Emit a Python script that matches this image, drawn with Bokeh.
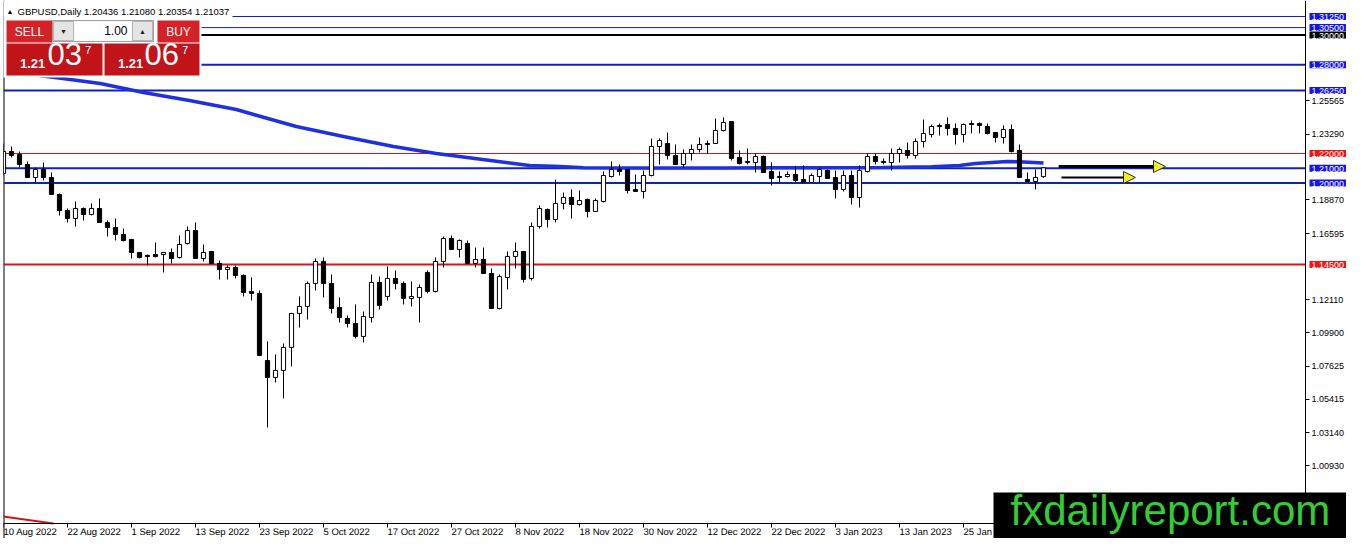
from bokeh.plotting import figure
from bokeh.models import (ColumnDataSource, FixedTicker, PrintfTickFormatter, Label,
                          BoxAnnotation, Arrow, NormalHead, Range1d)
from bokeh.embed import file_html
from bokeh.resources import INLINE

# ---------------- data ----------------
opens = [1.20650, 1.22135, 1.21932, 1.21257, 1.20380, 1.20920, 1.20380, 1.19232, 1.18152, 1.17612,
         1.18287, 1.17882, 1.18287, 1.17342, 1.17005, 1.16532, 1.16195, 1.15317, 1.15115, 1.15182,
         1.15182, 1.15317, 1.14980, 1.15925, 1.16802, 1.14912, 1.15385, 1.14575, 1.14170, 1.14305,
         1.13765, 1.12685, 1.12550, 1.08026, 1.06878, 1.07349, 1.08904, 1.11199, 1.11672, 1.13225,
         1.14710, 1.13225, 1.11604, 1.10862, 1.10524, 1.09646, 1.10929, 1.13292, 1.12347, 1.13562,
         1.13225, 1.12212, 1.12280, 1.13967, 1.12685, 1.14710, 1.16262, 1.15520, 1.15925, 1.14575,
         1.14845, 1.13900, 1.11537, 1.13630, 1.15047, 1.15385, 1.13562, 1.17072, 1.18220, 1.17545,
         1.18625, 1.19030, 1.18557, 1.18895, 1.18085, 1.18760, 1.20447, 1.20920, 1.20920, 1.19570,
         1.19435, 1.20515, 1.22472, 1.22675, 1.21865, 1.21257, 1.22000, 1.22269, 1.22675, 1.22675,
         1.23552, 1.24160, 1.21730, 1.21460, 1.21392, 1.21797, 1.20785, 1.20447, 1.20447, 1.20582,
         1.20245, 1.20042, 1.20447, 1.20852, 1.20380, 1.19570, 1.20515, 1.19030, 1.20785, 1.21797,
         1.21460, 1.21392, 1.22000, 1.22202, 1.21865, 1.22810, 1.23282, 1.23890, 1.23958, 1.23688,
         1.23282, 1.24025, 1.24025, 1.23823, 1.23417, 1.23080, 1.23620, 1.22202, 1.20245, 1.20110,
         1.20436]
highs = [1.22675, 1.22472, 1.22135, 1.21460, 1.21055, 1.21392, 1.20717, 1.19300, 1.18287, 1.18760,
         1.18355, 1.18625, 1.18962, 1.17477, 1.17612, 1.16937, 1.16210, 1.15330, 1.15182, 1.15992,
         1.15330, 1.15587, 1.16465, 1.17072, 1.17342, 1.15857, 1.15400, 1.14777, 1.14440, 1.14440,
         1.13832, 1.13630, 1.12752, 1.09309, 1.08431, 1.09174, 1.11210, 1.12347, 1.13360, 1.14912,
         1.14980, 1.13832, 1.12280, 1.11064, 1.11807, 1.11334, 1.13832, 1.13697, 1.14372, 1.14102,
         1.13360, 1.13360, 1.13157, 1.14102, 1.14980, 1.16397, 1.16465, 1.16195, 1.16127, 1.15655,
         1.15655, 1.14237, 1.13832, 1.15385, 1.15992, 1.15400, 1.17342, 1.18490, 1.18287, 1.20245,
         1.19367, 1.19570, 1.19502, 1.18962, 1.18962, 1.20785, 1.21460, 1.21257, 1.20935, 1.20582,
         1.20852, 1.23012, 1.23012, 1.23417, 1.22607, 1.22269, 1.22607, 1.23080, 1.22877, 1.24362,
         1.24430, 1.24175, 1.22202, 1.22337, 1.22000, 1.21865, 1.21392, 1.20785, 1.20785, 1.21122,
         1.21190, 1.20650, 1.21055, 1.20920, 1.20852, 1.20852, 1.20852, 1.21190, 1.22000, 1.22000,
         1.21662, 1.22337, 1.22404, 1.22742, 1.23012, 1.24295, 1.23958, 1.24025, 1.24430, 1.24025,
         1.24025, 1.24228, 1.24093, 1.24025, 1.23430, 1.23890, 1.23958, 1.22607, 1.20717, 1.20920,
         1.21080]
lows = [1.20515, 1.21730, 1.21055, 1.20340, 1.20042, 1.20177, 1.19200, 1.17815, 1.17342, 1.17072,
        1.17477, 1.17815, 1.17320, 1.16397, 1.16127, 1.16060, 1.14912, 1.14912, 1.14440, 1.14980,
        1.13967, 1.14575, 1.14912, 1.15857, 1.14900, 1.14710, 1.14560, 1.13495, 1.13495, 1.13562,
        1.12347, 1.12077, 1.08350, 1.03502, 1.06540, 1.05460, 1.07621, 1.10254, 1.10794, 1.12752,
        1.12280, 1.11199, 1.10592, 1.10254, 1.09511, 1.09241, 1.10592, 1.11469, 1.12077, 1.12820,
        1.11807, 1.11672, 1.10592, 1.12550, 1.12617, 1.14305, 1.15500, 1.14980, 1.14560, 1.14305,
        1.13890, 1.11520, 1.11469, 1.12820, 1.14237, 1.13292, 1.13427, 1.16937, 1.17005, 1.17342,
        1.18220, 1.17612, 1.18490, 1.17680, 1.18050, 1.18692, 1.20380, 1.20515, 1.19300, 1.19420,
        1.18962, 1.20447, 1.21257, 1.21595, 1.21240, 1.21055, 1.21527, 1.22067, 1.22000, 1.22660,
        1.23485, 1.21527, 1.21257, 1.21257, 1.20717, 1.20700, 1.19840, 1.20042, 1.20380, 1.20042,
        1.20030, 1.20030, 1.20042, 1.20300, 1.18962, 1.19435, 1.18557, 1.18355, 1.20717, 1.21257,
        1.21257, 1.20852, 1.21392, 1.21662, 1.21662, 1.22404, 1.23080, 1.23215, 1.23215, 1.22607,
        1.22742, 1.23350, 1.23350, 1.23282, 1.22742, 1.22675, 1.22067, 1.20370, 1.20100, 1.19570,
        1.20354]
closes = [1.22135, 1.21865, 1.21257, 1.20380, 1.20920, 1.20380, 1.19232, 1.18152, 1.17612, 1.18287,
          1.17882, 1.18287, 1.17342, 1.17005, 1.16532, 1.16127, 1.15317, 1.14980, 1.15047, 1.15047,
          1.15317, 1.14912, 1.15857, 1.16802, 1.14912, 1.15317, 1.14575, 1.14170, 1.14305, 1.13765,
          1.12617, 1.12550, 1.08364, 1.06878, 1.07349, 1.08904, 1.11199, 1.11672, 1.13225, 1.14710,
          1.13225, 1.11537, 1.10929, 1.10524, 1.09646, 1.10997, 1.13292, 1.11739, 1.13562, 1.13225,
          1.12212, 1.12347, 1.12955, 1.12685, 1.14710, 1.16262, 1.15520, 1.16127, 1.14575, 1.14845,
          1.13900, 1.11537, 1.13697, 1.15047, 1.15385, 1.13495, 1.17072, 1.18287, 1.17545, 1.18625,
          1.19030, 1.18557, 1.18827, 1.18085, 1.18827, 1.20515, 1.20920, 1.20785, 1.19502, 1.19435,
          1.20515, 1.22472, 1.22877, 1.21865, 1.21257, 1.22000, 1.22269, 1.22607, 1.22607, 1.23552,
          1.24093, 1.21662, 1.21325, 1.21392, 1.21797, 1.20717, 1.20312, 1.20380, 1.20582, 1.20177,
          1.20042, 1.20515, 1.20920, 1.20312, 1.19570, 1.20515, 1.19030, 1.20852, 1.21797, 1.21460,
          1.21392, 1.22000, 1.22269, 1.21865, 1.22810, 1.23350, 1.23823, 1.23823, 1.23688, 1.23282,
          1.23958, 1.23958, 1.23890, 1.23350, 1.23080, 1.23620, 1.22135, 1.20380, 1.20110, 1.20380,
          1.21037]

tick_bars = [0, 8, 16, 24, 32, 40, 48, 56, 64, 72, 80, 88, 96, 104, 112, 120]
tick_labels = ["10 Aug 2022", "22 Aug 2022", "1 Sep 2022", "13 Sep 2022", "23 Sep 2022",
               "5 Oct 2022", "17 Oct 2022", "27 Oct 2022", "8 Nov 2022", "18 Nov 2022",
               "30 Nov 2022", "12 Dec 2022", "22 Dec 2022", "3 Jan 2023", "13 Jan 2023",
               "25 Jan 2023"]
price_ticks = [1.00930, 1.03140, 1.05415, 1.07625, 1.09900, 1.12110, 1.16595, 1.18870,
               1.23290, 1.25565]

# moving averages
ma_bars = [0, 7.4, 12.1, 17.5, 23.25, 29.1, 32.6, 36.6, 42.5, 48.75, 54.1, 59.9, 65.75,
           69.6, 72.5, 80, 90, 100, 110, 116, 119.5, 121.5, 125.5, 127.5, 130]
ma_vals = [1.2757, 1.2706, 1.2673, 1.2612, 1.2558, 1.2497, 1.2443, 1.2382, 1.2315, 1.2247,
           1.2200, 1.2159, 1.2119, 1.2112, 1.2104, 1.2102, 1.2102, 1.2104, 1.2106, 1.2110,
           1.2119, 1.2132, 1.2146, 1.2142, 1.2136]
red_ma_bars = [-0.5, 6.25]
red_ma_vals = [0.97520, 0.97016]

# horizontal levels
BLUE = "#1020c8"
RED = "#d01818"
level_vals = [1.3125, 1.3050, 1.3000, 1.2800, 1.2625, 1.2200, 1.2100, 1.2000, 1.1450]
level_colors = [BLUE, BLUE, "black", BLUE, BLUE, RED, BLUE, BLUE, RED]
level_widths = [1, 1, 2, 2, 2, 1, 2, 2, 2]
level_box_colors = ["#1414f0", "#1414f0", "black", "#1414f0", "#1414f0", "#f01414",
                    "#1414f0", "#1414f0", "#f01414"]

# arrows
arrow_x0 = [131.9, 132.25]
arrow_x1 = [145.25, 141.5]
arrow_y = [1.2112, 1.2038]
arrow_w = [3, 2]

header_text = "GBPUSD,Daily  1.20436 1.21080 1.20354 1.21037"

# ---------------- figure ----------------
FONT = "Liberation Sans"
X_START, X_END = 0.0, 167.875          # bars across the frame
Y_BOTTOM, Y_TOP = 0.96003, 1.32330     # prices across the frame
AXIS_X = 162.75                         # where the price scale sits (bars)
AXIS_Y = 0.97016                        # where the time scale sits (price)

p = figure(width=1346, height=538, output_backend="svg", toolbar_location=None,
           x_range=Range1d(X_START, X_END), y_range=Range1d(Y_BOTTOM, Y_TOP),
           y_axis_location="right", min_border_left=3, min_border_top=0,
           min_border_right=0, min_border_bottom=0)
p.xgrid.visible = False
p.ygrid.visible = False
p.outline_line_color = None
p.background_fill_color = "white"
p.border_fill_color = "white"

for ax in (p.xaxis[0], p.yaxis[0]):
    ax.axis_line_color = "black"
    ax.major_tick_line_color = "black"
    ax.major_tick_out = 4
    ax.major_tick_in = 0
    ax.minor_tick_line_color = None
    ax.major_label_text_font = FONT
    ax.major_label_text_color = "black"

p.xaxis[0].fixed_location = AXIS_Y
p.yaxis[0].fixed_location = AXIS_X
p.xaxis.major_label_text_font_size = "9.5px"
p.yaxis.major_label_text_font_size = "9px"
p.xaxis.major_label_standoff = 4
p.xaxis.major_label_orientation = -0.0005   # tiny angle: labels start at their tick
p.yaxis.major_label_standoff = 2
p.xaxis.ticker = FixedTicker(ticks=tick_bars)
p.xaxis.major_label_overrides = {b: t for b, t in zip(tick_bars, tick_labels)}
p.yaxis.ticker = FixedTicker(ticks=price_ticks)
p.yaxis.formatter = PrintfTickFormatter(format="%.5f")

# left border of the chart window
p.vspan(x=[X_START], line_color="black", line_width=2)

# levels (from the left edge up to the price scale)
p.segment(x0=[X_START] * len(level_vals), y0=level_vals,
          x1=[AXIS_X] * len(level_vals), y1=level_vals,
          line_color=level_colors, line_width=level_widths)

# moving averages
p.line(ma_bars, ma_vals, line_color="#1e30e0", line_width=3.5)
p.line(red_ma_bars, red_ma_vals, line_color="#d01414", line_width=2)

# candles
idx = list(range(len(opens)))
src = ColumnDataSource(dict(
    x=idx, o=opens, h=highs, l=lows, c=closes,
    top=[max(a, b) for a, b in zip(opens, closes)],
    bot=[min(a, b) for a, b in zip(opens, closes)],
    col=["white" if c >= o else "black" for o, c in zip(opens, closes)],
))
p.segment(x0="x", y0="l", x1="x", y1="h", source=src, line_color="black", line_width=1)
p.vbar(x="x", width=0.52, top="top", bottom="bot", source=src,
       fill_color="col", line_color="black", line_width=1)

# arrows
for x0, x1, yy, w in zip(arrow_x0, arrow_x1, arrow_y, arrow_w):
    p.add_layout(Arrow(x_start=x0, y_start=yy, x_end=x1, y_end=yy,
                       line_color="black", line_width=w,
                       end=NormalHead(size=12, fill_color="#f0f020",
                                      line_color="#303030", line_width=1)))

# level labels on the price scale
for v, bc in zip(level_vals, level_box_colors):
    p.add_layout(Label(x=1309, y=v, x_units="canvas", y_units="data",
                       text=f"{v:.5f}", text_color="white", text_font=FONT,
                       text_font_size="9px", text_baseline="middle", text_align="left",
                       background_fill_color=bc, background_fill_alpha=1,
                       padding=dict(left=2, right=2, top=1, bottom=0)))

# ---------------- trading panel ----------------
def box(l, r, t, b, fill, line=None):
    p.add_layout(BoxAnnotation(left=l, right=r, top=t, bottom=b,
                               left_units="canvas", right_units="canvas",
                               top_units="canvas", bottom_units="canvas",
                               fill_color=fill, fill_alpha=1,
                               line_color=line, line_alpha=1, line_width=1))

def txt(x, y, t, size, color="white", align="left", base="top", style="normal"):
    p.add_layout(Label(x=x, y=y, x_units="canvas", y_units="canvas", text=t,
                       text_color=color, text_font=FONT, text_font_size=size,
                       text_align=align, text_baseline=base, text_font_style=style))

box(0, 232, 0, 18, "white")
box(0, 201, 18, 77, "white")
txt(6, 7, "\u25B2", "7px", color="black")
txt(17, 5, header_text, "9.5px", color="black")

box(6, 52, 20, 42, "#d42328")
txt(29, 31, "SELL", "12px", align="center", base="middle")
box(52, 153, 20, 41, "#f0f0f0", "#a0a0a0")
box(53, 73, 21, 40, "#e4e4e4", "#b4b4b4")
box(74, 131, 21, 40, "white")
box(132, 152, 21, 40, "#e4e4e4", "#b4b4b4")
txt(63, 30.5, "\u25BC", "7px", color="#202020", align="center", base="middle")
txt(142, 30.5, "\u25B2", "7px", color="#202020", align="center", base="middle")
txt(127, 30, "1.00", "12px", color="black", align="right", base="middle")
box(157, 199, 20, 42, "#d42328")
txt(178, 31, "BUY", "12px", align="center", base="middle")

box(6, 102, 43, 75, "#c0131a")
txt(19.5, 58, "1.21", "13px", style="bold")
txt(47, 42, "03", "31px")
txt(84.5, 45, "7", "11.5px")
box(104, 199, 43, 75, "#c0131a")
txt(117.5, 58, "1.21", "13px", style="bold")
txt(144, 42, "06", "31px")
txt(181.5, 45, "7", "11.5px")

# ---------------- watermark ----------------
box(993, 1400, 492, 600, "black")
txt(1010, 486, "fxdailyreport.com", "42px", color="#33cc33")

open("out.html", "w").write(file_html(p, INLINE))
